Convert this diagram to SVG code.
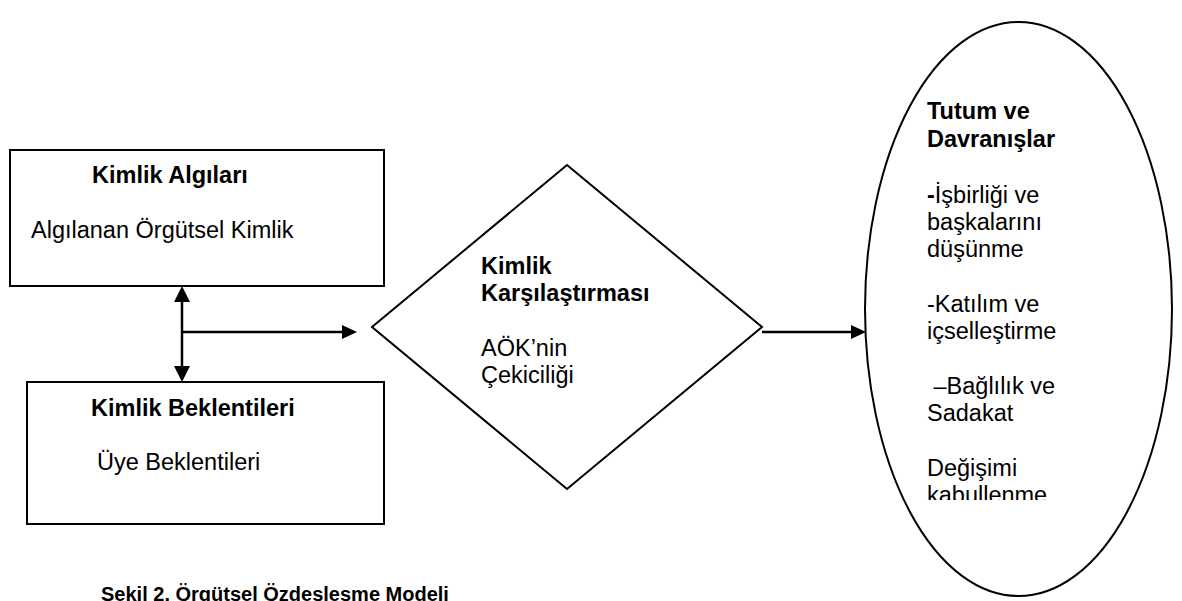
<svg xmlns="http://www.w3.org/2000/svg" width="1182" height="601" viewBox="0 0 1182 601">
  <style>
    .shape { fill: #ffffff; stroke: #000000; stroke-width: 2; }
    .link { fill: none; stroke: #000000; stroke-width: 2.5; }
    .head { fill: #000000; stroke: none; }
    text { font-family: "Liberation Sans", Arial, sans-serif; font-size: 23.5px; fill: #000000; }
    .b { font-weight: bold; }
    .cap { font-size: 20px; font-weight: bold; }
  </style>
  <defs>
    <clipPath id="ellipseTextClip">
      <rect x="900" y="0" width="260" height="500"/>
    </clipPath>
  </defs>
  <rect width="1182" height="601" fill="#ffffff"/>

  <g id="kimlik-algilari">
    <rect class="shape" x="10" y="150" width="374" height="136"/>
    <text class="b" x="92" y="183">Kimlik Algıları</text>
    <text x="31" y="238">Algılanan Örgütsel Kimlik</text>
  </g>

  <g id="kimlik-beklentileri">
    <rect class="shape" x="27" y="382" width="357" height="142"/>
    <text class="b" x="91" y="416">Kimlik Beklentileri</text>
    <text x="97" y="470">Üye Beklentileri</text>
  </g>

  <g id="kimlik-karsilastirmasi">
    <polygon class="shape" points="567,165 762,327 567,489 372,327"/>
    <text class="b" x="481" y="274">Kimlik</text>
    <text class="b" x="481" y="301">Karşılaştırması</text>
    <text x="481" y="356">AÖK’nin</text>
    <text x="481" y="383">Çekiciliği</text>
  </g>

  <g id="tutum-ve-davranislar">
    <ellipse class="shape" cx="1018.5" cy="309" rx="153.5" ry="287"/>
    <g clip-path="url(#ellipseTextClip)">
      <text class="b" x="927" y="119">Tutum ve</text>
      <text class="b" x="927" y="147">Davranışlar</text>
      <text x="927" y="203"><tspan class="b">-</tspan>İşbirliği ve</text>
      <text x="927" y="230">başkalarını</text>
      <text x="927" y="257">düşünme</text>
      <text x="927" y="312">-Katılım ve</text>
      <text x="927" y="339">içselleştirme</text>
      <text x="933.5" y="394">–Bağlılık ve</text>
      <text x="927" y="421">Sadakat</text>
      <text x="927" y="476">Değişimi</text>
      <text x="927" y="503">kabullenme</text>
    </g>
  </g>

  <g id="connectors">
    <!-- two-way link between the boxes -->
    <line class="link" x1="182" y1="300" x2="182" y2="368"/>
    <polygon class="head" points="182,286 174,302 190,302"/>
    <polygon class="head" points="182,382 174,366 190,366"/>
    <!-- branch into the comparison -->
    <line class="link" x1="182" y1="332" x2="344" y2="332"/>
    <polygon class="head" points="357,332 342,325 342,339"/>
    <!-- comparison to attitudes -->
    <line class="link" x1="762" y1="332" x2="852" y2="332"/>
    <polygon class="head" points="866,332 851,325 851,339"/>
  </g>

  <g id="caption">
    <text class="cap" x="101" y="601">Şekil 2. Örgütsel Özdeşleşme Modeli</text>
  </g>
</svg>
